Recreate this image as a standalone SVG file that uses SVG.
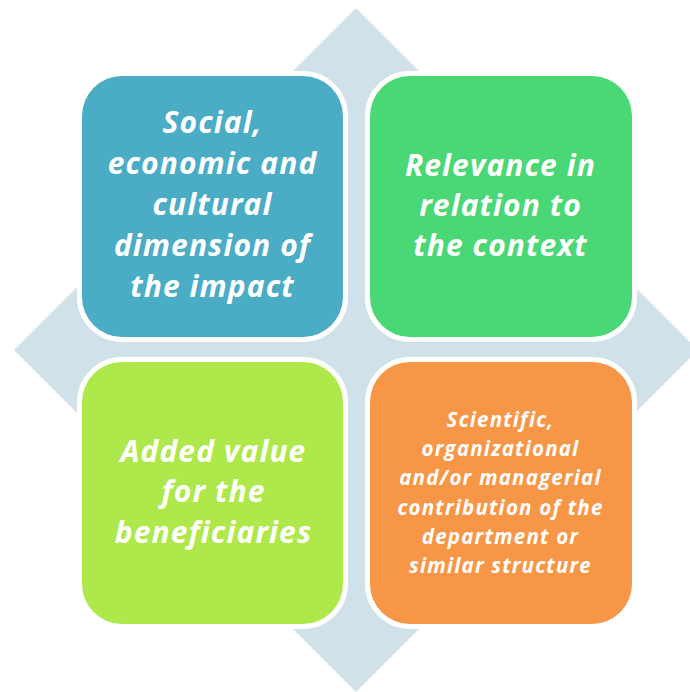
<svg xmlns="http://www.w3.org/2000/svg" width="690" height="692" viewBox="0 0 690 692">
<style>
.box{stroke:#ffffff;stroke-width:10;paint-order:stroke}
.t{font-family:"Open Sans",Lato,"Liberation Sans",sans-serif;font-weight:bold;font-style:italic;fill:#ffffff;text-anchor:middle}
.big{font-size:30px;letter-spacing:1.1px}
.small{font-size:20.5px;letter-spacing:1.2px}
</style>
<rect width="690" height="692" fill="#ffffff"/>
<polygon id="diamond" points="356,8 698,350 356,692 14,350" fill="#D0E1EA"/>
<g id="n1">
<rect class="box" x="82" y="76" width="261" height="261" rx="40" fill="#4BACC6"/>
<text class="t big"><tspan x="212.5" y="133">Social,</tspan><tspan x="212.5" y="174">economic and</tspan><tspan x="212.5" y="215">cultural</tspan><tspan x="212.5" y="256">dimension of</tspan><tspan x="212.5" y="297">the impact</tspan></text>
</g>
<g id="n2">
<rect class="box" x="370" y="76" width="262" height="261" rx="40" fill="#4AD776"/>
<text class="t big"><tspan x="500.5" y="176">Relevance in</tspan><tspan x="500.5" y="216">relation to</tspan><tspan x="500.5" y="256">the context</tspan></text>
</g>
<g id="n3">
<rect class="box" x="82" y="362" width="261" height="262" rx="40" fill="#AEE84A"/>
<text class="t big"><tspan x="213.5" y="462">Added value</tspan><tspan x="213.5" y="502">for the</tspan><tspan x="213.5" y="543">beneficiaries</tspan></text>
</g>
<g id="n4">
<rect class="box" x="370" y="362" width="262" height="262" rx="40" fill="#F79646"/>
<text class="t small"><tspan x="500.5" y="427">Scientific,</tspan><tspan x="500.5" y="456">organizational</tspan><tspan x="500.5" y="485">and/or managerial</tspan><tspan x="500.5" y="515">contribution of the</tspan><tspan x="500.5" y="544">department or</tspan><tspan x="500.5" y="573">similar structure</tspan></text>
</g>
<g id="connectors"/>
</svg>
